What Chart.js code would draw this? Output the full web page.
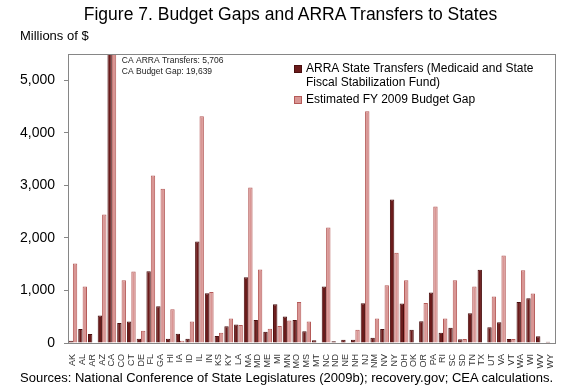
<!DOCTYPE html>
<html>
<head>
<meta charset="utf-8">
<script src="https://cdn.jsdelivr.net/npm/chart.js@4"></script>
<style>
  body { margin: 0; background: #fff; }
  #wrap { position: relative; width: 575px; height: 391px; font-family: "Liberation Sans", Arial, sans-serif; color: #000; }
  #wrap canvas { position: absolute; left: 0; top: 0; }
  .txt { position: absolute; white-space: nowrap; }
  #title { left: 3px; width: 575px; top: 4px; text-align: center; font-size: 17.5px; }
  #units { left: 20px; top: 28px; font-size: 13px; }
  #source { left: 20px; top: 370px; font-size: 13px; }
  #legend { left: 294px; top: 61px; font-size: 12px; line-height: 14px; }
  #legend .item { position: relative; padding-left: 12px; margin-bottom: 3px; }
  #legend .sw { position: absolute; left: 0; top: 4px; width: 6px; height: 6px; border: 1px solid; }
</style>
</head>
<body>
<div id="wrap">
  <canvas id="chart" width="575" height="391"></canvas>
  <div class="txt" id="title">Figure 7. Budget Gaps and ARRA Transfers to States</div>
  <div class="txt" id="units">Millions of $</div>
  <div class="txt" id="legend">
    <div class="item"><span class="sw" style="background:#6b1b1b;border-color:#4a0f0f"></span>ARRA State Transfers (Medicaid and State<br>Fiscal Stabilization Fund)</div>
    <div class="item"><span class="sw" style="background:#d99694;border-color:#b55a58"></span>Estimated FY 2009 Budget Gap</div>
  </div>
  <div class="txt" id="source">Sources: National Conference of State Legislatures (2009b); recovery.gov; CEA calculations.</div>
</div>
<script>
// states along the x axis
const states = ['AK','AL','AR','AZ','CA','CO','CT','DE','FL','GA','HI','IA','ID','IL','IN','KS','KY','LA','MA','MD',
  'ME','MI','MN','MO','MS','MT','NC','ND','NE','NH','NJ','NM','NV','NY','OH','OK','OR','PA','RI','SC',
  'SD','TN','TX','UT','VA','VT','WA','WI','WV','WY'];

// millions of dollars (CA values from the note)
const arraTransfers = [45,267,172,521,5706,381,407,83,1366,699,83,178,83,1932,947,133,318,350,1252,438,
  216,737,502,438,222,51,1074,32,64,64,756,102,267,2733,750,254,413,960,197,292,
  70,566,1392,299,394,76,782,852,127,25];
const budgetGap = [1512,1074,0,2447,19639,1195,1360,235,3190,2936,642,45,407,4315,972,197,464,343,2961,1398,
  273,324,426,782,407,0,2199,0,0,254,4410,464,1099,1716,1195,0,763,2599,464,1195,
  76,1074,0,883,1665,76,1385,940,0,0];

const yTicks = [0, 1000, 2000, 3000, 4000, 5000];
const yMax = 5500;

// gray frame round the plot + CA note
const framePlugin = {
  id: 'frame',
  afterDatasetsDraw(chart) {
    const { ctx, chartArea: a } = chart;
    ctx.save();
    ctx.strokeStyle = '#868686';
    ctx.lineWidth = 1;
    ctx.strokeRect(Math.round(a.left) + 0.5, Math.round(a.top) + 0.5, Math.round(a.right - a.left), Math.round(a.bottom - a.top));
    const x = chart.scales.x.getPixelForValue(states.indexOf('CA')) + 10;
    ctx.fillStyle = '#222';
    ctx.font = '8.5px "Liberation Sans", Arial, sans-serif';
    ctx.textBaseline = 'middle';
    ctx.fillText('CA ARRA Transfers: ' + arraTransfers[4].toLocaleString('en-US'), x, a.top + 7);
    ctx.fillText('CA Budget Gap: ' + budgetGap[4].toLocaleString('en-US'), x, a.top + 18);
    ctx.restore();
  }
};

new Chart(document.getElementById('chart'), {
  type: 'bar',
  data: {
    labels: states,
    datasets: [
      {
        label: 'ARRA State Transfers (Medicaid and State Fiscal Stabilization Fund)',
        data: arraTransfers,
        backgroundColor: '#6b1b1b',
        borderColor: '#4a0f0f',
        borderWidth: 1,
      },
      {
        label: 'Estimated FY 2009 Budget Gap',
        data: budgetGap,
        backgroundColor: '#d99694',
        borderColor: '#b55a58',
        borderWidth: 1,
      },
    ],
  },
  options: {
    responsive: false,
    animation: false,
    layout: { padding: { left: 0, right: 20, top: 54, bottom: 18 } },
    datasets: { bar: { categoryPercentage: 0.9, barPercentage: 1.0 } },
    plugins: { legend: { display: false }, tooltip: { enabled: false } },
    scales: {
      x: {
        grid: { display: false },
        border: { color: '#868686' },
        ticks: {
          autoSkip: false, minRotation: 90, maxRotation: 90, padding: 3,
          color: '#333', font: { size: 9, family: '"Liberation Sans", Arial, sans-serif' },
        },
        afterFit(axis) { axis.height = 30; },
      },
      y: {
        min: 0,
        max: yMax,
        grid: { drawOnChartArea: false, tickLength: 4, color: '#868686' },
        border: { color: '#868686' },
        afterBuildTicks(axis) { axis.ticks = yTicks.map(v => ({ value: v })); },
        ticks: {
          padding: 9, color: '#000',
          font: { size: 14, family: '"Liberation Sans", Arial, sans-serif' },
          callback: v => v.toLocaleString('en-US'),
        },
        afterFit(axis) { axis.width = 68; },
      },
    },
  },
  plugins: [framePlugin],
});
</script>
</body>
</html>
